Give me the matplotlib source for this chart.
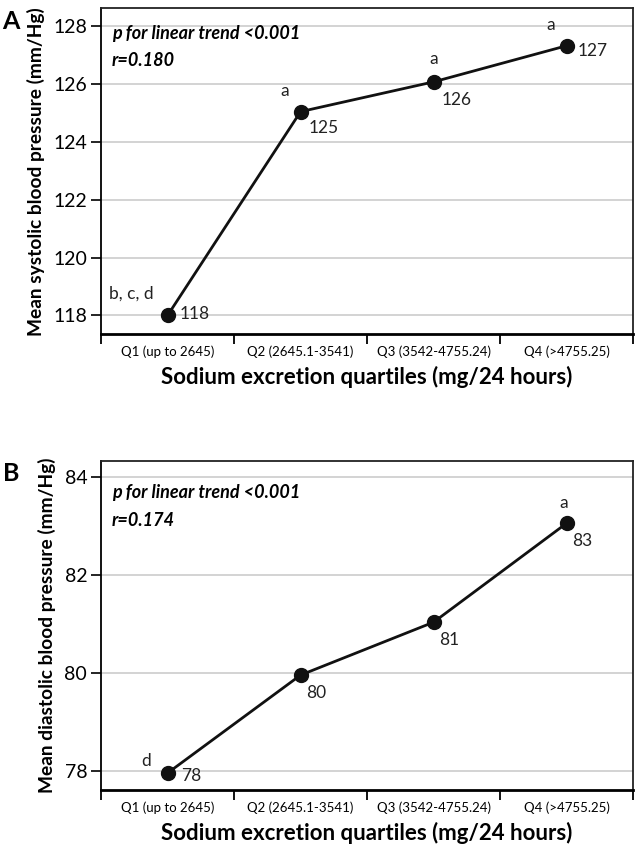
import matplotlib
matplotlib.use("Agg")
import matplotlib.pyplot as plt
import numpy as np

plt.rcParams['font.family'] = ['Lato', 'DejaVu Sans']

categories = ["Q1 (up to 2645)", "Q2 (2645.1-3541)", "Q3 (3542-4755.24)", "Q4 (>4755.25)"]
sbp = [118.0, 125.05, 126.08, 127.33]
dbp = [77.96, 79.96, 81.04, 83.06]
sbp_labels = ["118", "125", "126", "127"]
dbp_labels = ["78", "80", "81", "83"]
sbp_sig = ["b, c, d", "a", "a", "a"]
dbp_sig = ["d", "", "", "a"]
sbp_ticks = [118, 120, 122, 124, 126, 128]
dbp_ticks = [78, 80, 82, 84]

fig = plt.figure(figsize=(6.44, 8.46), dpi=100)
axA = fig.add_axes([0.157, 0.605, 0.826, 0.385])
axB = fig.add_axes([0.157, 0.066, 0.826, 0.389])

def style(ax, ticks, ylim, ylabel):
    x = np.arange(len(categories))
    ax.set_xlim(-0.5, len(categories) - 0.5)
    ax.set_ylim(*ylim)
    ax.set_yticks(ticks)
    ax.set_yticklabels([str(t) for t in ticks], fontsize=14)
    ax.yaxis.grid(True, color='#cccccc', linewidth=1.2)
    ax.set_axisbelow(True)
    ax.set_xticks(np.arange(len(categories) + 1) - 0.5)
    ax.set_xticklabels([])
    ax.set_xticks(x, minor=True)
    ax.set_xticklabels(categories, minor=True, fontsize=9.5)
    ax.tick_params(axis='x', which='minor', length=0, pad=8)
    ax.tick_params(axis='x', which='major', length=7, width=1.3, direction='out')
    ax.tick_params(axis='y', length=7, width=1.2, direction='out', pad=3)
    for s in ['top', 'right']:
        ax.spines[s].set_linewidth(1.3)
        ax.spines[s].set_color('#222222')
    ax.spines['left'].set_linewidth(1.3)
    ax.spines['bottom'].set_linewidth(2.0)
    ax.set_ylabel(ylabel, fontsize=13.8, fontweight='bold', labelpad=6)
    ax.set_xlabel("Sodium excretion quartiles (mg/24 hours)", fontsize=16, fontweight='bold', labelpad=6)

# Panel A
x = np.arange(len(categories))
style(axA, sbp_ticks, (117.35, 128.62), "Mean systolic blood pressure (mm/Hg)")
axA.plot(x, sbp, color='#111111', linewidth=2.0, marker='o', markersize=10, zorder=3)
val_offA = [(9, 1), (6, -12), (6, -13), (8, -4)]
sig_offA = [(-10, 10), (-8, 9), (0, 11), (-8, 9)]
for i in range(len(categories)):
    axA.annotate(sbp_labels[i], (x[i], sbp[i]), xytext=val_offA[i], textcoords='offset points',
                 ha='left', va='center', fontsize=12.5, color='#222222')
    axA.annotate(sbp_sig[i], (x[i], sbp[i]), xytext=sig_offA[i], textcoords='offset points',
                 ha='right' if i != 2 else 'center', va='bottom', fontsize=12.5, color='#222222')
axA.text(0.02, 0.95, "p for linear trend <0.001", transform=axA.transAxes, fontsize=13,
         fontweight='bold', style='italic', va='top')
axA.text(0.02, 0.865, "r=0.180", transform=axA.transAxes, fontsize=13,
         fontweight='bold', style='italic', va='top')
fig.text(0.004, 0.975, "A", fontsize=18, fontweight='bold', va='center')

# Panel B
style(axB, dbp_ticks, (77.61, 84.33), "Mean diastolic blood pressure (mm/Hg)")
axB.plot(x, dbp, color='#111111', linewidth=2.0, marker='o', markersize=10, zorder=3)
val_offB = [(10, -2), (4, -13), (4, -13), (4, -13)]
sig_offB = [(-12, 3), (0, 0), (0, 0), (-2, 9)]
for i in range(len(categories)):
    axB.annotate(dbp_labels[i], (x[i], dbp[i]), xytext=val_offB[i], textcoords='offset points',
                 ha='left', va='center', fontsize=12.5, color='#222222')
    if dbp_sig[i]:
        axB.annotate(dbp_sig[i], (x[i], dbp[i]), xytext=sig_offB[i], textcoords='offset points',
                     ha='right' if i == 0 else 'center', va='bottom', fontsize=12.5, color='#222222')
axB.text(0.02, 0.93, "p for linear trend <0.001", transform=axB.transAxes, fontsize=13,
         fontweight='bold', style='italic', va='top')
axB.text(0.02, 0.845, "r=0.174", transform=axB.transAxes, fontsize=13,
         fontweight='bold', style='italic', va='top')
fig.text(0.004, 0.44, "B", fontsize=18, fontweight='bold', va='center')

fig.savefig("out.png", dpi=100)
